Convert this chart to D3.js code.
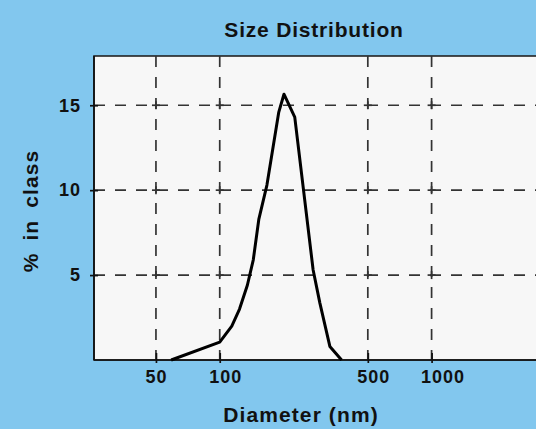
<!DOCTYPE html>
<html>
<head>
<meta charset="utf-8">
<style>
  body { margin: 0; background: #82c7ee; overflow: hidden; }
  svg { display: block; font-family: "Liberation Sans", Arial, sans-serif; font-weight: bold; }
  .grid line { stroke: #333; stroke-width: 1.7; stroke-dasharray: 11 10; }
  .axis path, .axis line { stroke: #111; stroke-width: 1.7; }
  .axis text { fill: #111; font-size: 18px; letter-spacing: 1px; font-family: "Liberation Sans", Arial, sans-serif; font-weight: bold; }
</style>
<title>Size Distribution</title>
</head>
<body>
<script src="https://cdn.jsdelivr.net/npm/d3@7"></script>
<script>

// data
var diameters = [59, 100, 114, 124, 135, 144, 153, 167, 190, 201, 226, 276, 297, 331, 376];
var percents  = [0, 1.05, 2.0, 3.0, 4.4, 5.9, 8.3, 10.3, 14.6, 15.65, 14.3, 5.3, 3.35, 0.8, 0];
var xTicks = [50, 100, 500, 1000];
var yTicks = [5, 10, 15];

var W = 536, H = 429;
var margin = {top: 56, left: 94},
    width = 451,          // runs past the right edge like the original
    height = 304;

var x = d3.scaleLog().domain([25.5, 3430]).range([0, width]);
var y = d3.scaleLinear().domain([0, 17.9]).range([height, 0]);

var svg = d3.select("body").append("svg")
    .attr("width", W)
    .attr("height", H);

svg.append("text")
    .attr("x", 314).attr("y", 37)
    .attr("text-anchor", "middle")
    .style("font-size", "21px").style("letter-spacing", "0.8px")
    .attr("fill", "#111")
    .text("Size Distribution");

var g = svg.append("g")
    .attr("transform", `translate(${margin.left},${margin.top})`);

g.append("rect")
    .attr("width", width).attr("height", height)
    .attr("fill", "#f7f7f7")
    .attr("stroke", "#222").attr("stroke-width", 1.6);

// dashed grid
var grid = g.append("g").attr("class", "grid");
grid.selectAll(".gx").data(xTicks).enter().append("line")
    .attr("x1", d => x(d)).attr("x2", d => x(d))
    .attr("y1", 0).attr("y2", height)
    .attr("stroke", d => d >= 500 ? "#555" : null);
grid.selectAll(".gy").data(yTicks).enter().append("line")
    .attr("x1", 0).attr("x2", width)
    .attr("y1", d => y(d)).attr("y2", d => y(d));

// little crosses where grid lines meet
var cross = [];
xTicks.forEach(a => yTicks.forEach(b => cross.push([a, b])));
var cg = g.append("g").attr("stroke", "#333").attr("stroke-width", 1.7);
cg.selectAll(".ch").data(cross).enter().append("line")
    .attr("x1", d => x(d[0]) - 4).attr("x2", d => x(d[0]) + 4)
    .attr("y1", d => y(d[1])).attr("y2", d => y(d[1]));
cg.selectAll(".cv").data(cross).enter().append("line")
    .attr("x1", d => x(d[0])).attr("x2", d => x(d[0]))
    .attr("y1", d => y(d[1]) - 4).attr("y2", d => y(d[1]) + 4);

// axes
var xAxis = g.append("g")
    .attr("class", "axis")
    .attr("transform", "translate(0," + height + ")")
    .call(d3.axisBottom(x).tickValues(xTicks).tickFormat(d3.format("d")).tickSize(3).tickPadding(7));
xAxis.select(".domain").remove();
xAxis.append("line").attr("x1", 0).attr("x2", width);
xAxis.selectAll(".tick").append("line").attr("y2", -7);
xAxis.selectAll(".tick text").attr("text-anchor", "start").attr("dx", -11);

var yAxis = g.append("g")
    .attr("class", "axis")
    .call(d3.axisLeft(y).tickValues(yTicks).tickSize(4).tickPadding(9));
yAxis.select(".domain").remove();
yAxis.append("line").attr("y1", 0).attr("y2", height);
yAxis.selectAll(".tick").append("line").attr("x2", 4);

// curve
var pts = diameters.map((d, i) => [d, percents[i]]);
g.append("path")
    .datum(pts)
    .attr("fill", "none")
    .attr("stroke", "#000")
    .attr("stroke-width", 3)
    .attr("stroke-linejoin", "round")
    .attr("d", d3.line().x(d => x(d[0])).y(d => y(d[1])));

// axis titles
svg.append("text")
    .attr("x", 301).attr("y", 422)
    .attr("text-anchor", "middle")
    .style("font-size", "21px").style("letter-spacing", "1.1px")
    .attr("fill", "#111")
    .text("Diameter (nm)");

svg.append("text")
    .attr("transform", "translate(38,211) rotate(-90)")
    .attr("text-anchor", "middle")
    .style("font-size", "21px").style("letter-spacing", "1.1px").style("word-spacing", "5px")
    .attr("fill", "#111")
    .text("% in class");

</script>
</body>
</html>
